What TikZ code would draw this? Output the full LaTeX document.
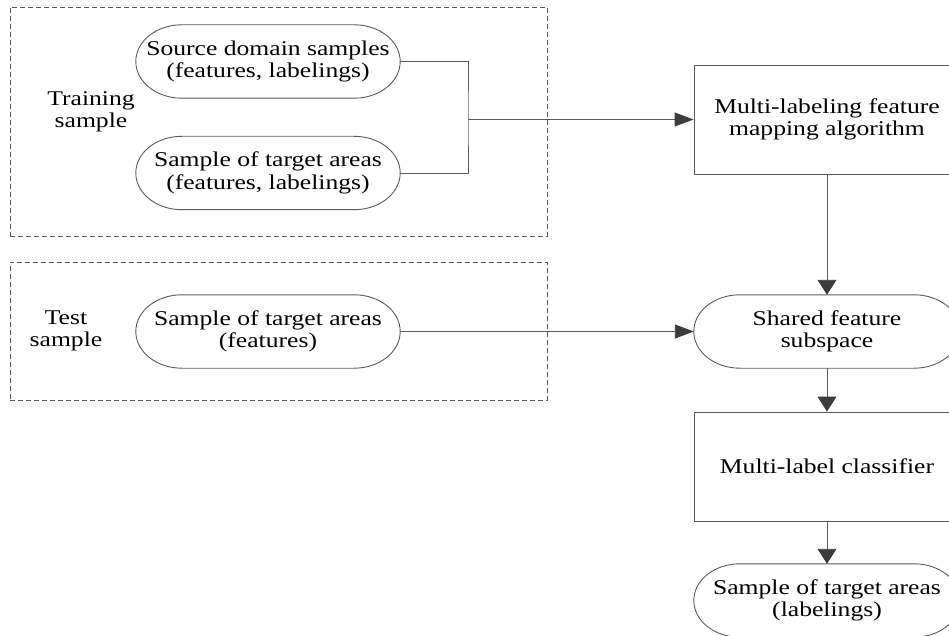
\documentclass[tikz,border=0pt]{standalone}
\usepackage{fontspec}
\setmainfont{Liberation Serif}[FakeStretch=1.22]
\usetikzlibrary{arrows.meta,positioning,calc}
\definecolor{linegray}{HTML}{5A5A5A}
\definecolor{tipgray}{HTML}{3C3C3C}
\tikzset{
  base/.style={font=\fontsize{21}{22.5}\selectfont, align=center, inner sep=0pt, text=black},
  groupbox/.style={draw=linegray, line width=0.8pt, dash pattern=on 5pt off 3pt},
  procbox/.style={base, draw=linegray, line width=0.9pt, minimum width=266pt, minimum height=109pt},
  stadnode/.style={base, minimum height=73pt},
  stadline/.style={draw=linegray, line width=0.9pt},
  conn/.style={draw=linegray, line width=0.9pt},
  arrH/.style={conn, -{Triangle[length=19pt,width=14pt,fill=tipgray,color=tipgray]}},
  arrV/.style={conn, -{Triangle[length=15pt,width=19pt,fill=tipgray,color=tipgray]}},
}
% stadium outline around a node: #1 name, #2 end x-radius
\newcommand{\stadium}[2]{%
  \path let \p1=(#1.north), \p2=(#1.south) in
    \pgfextra{\pgfmathsetmacro{\hh}{(\y1-\y2)/2}}
    [stadline] ([xshift=#2]#1.north west) -- ([xshift=-#2]#1.north east)
    arc[start angle=90,end angle=-90,x radius=#2,y radius=\hh pt]
    -- ([xshift=#2]#1.south west)
    arc[start angle=270,end angle=90,x radius=#2,y radius=\hh pt] -- cycle;}
\begin{document}
\begin{tikzpicture}[x=1pt,y=1pt]
\useasboundingbox (0,0) rectangle (949,-636);
% group boxes
\node[groupbox, minimum width=537pt, minimum height=229pt, inner sep=0pt] (train) at (278.5,-121.5) {};
\node[groupbox, minimum width=537pt, minimum height=138pt, inner sep=0pt] (test) at (278.5,-331) {};
\node[base] (trainlbl) at (91,-112) {Training\\sample};
\node[base] (testlbl) at (66,-331) {Test\\sample};
% left stadiums
\node[stadnode, minimum width=264pt] (src) at (268,-61.5) {Source domain samples\\(features, labelings)};
\node[stadnode, minimum width=264pt] (tgt) at (268,-173) {Sample of target areas\\(features, labelings)};
\node[stadnode, minimum width=264pt] (tst) at (268,-331.5) {Sample of target areas\\(features)};
% right column
\node[procbox] (mlfm) at (827,-119.5) {Multi-labeling feature\\mapping algorithm};
\node[stadnode, minimum width=266pt] (shared) at (827,-331.5) {Shared feature\\subspace};
\node[procbox] (clf) at (827,-466.5) {Multi-label classifier};
\node[stadnode, minimum width=266pt] (out) at (827,-600.5) {Sample of target areas\\(labelings)};
\stadium{src}{46pt}
\stadium{tgt}{46pt}
\stadium{tst}{46pt}
\stadium{shared}{46pt}
\stadium{out}{46pt}
% connectors
\coordinate (jn) at (468,-119.5);
\draw[conn] (src.east) -| (jn) |- (tgt.east);
\draw[arrH] (jn) -- (mlfm.west);
\draw[arrH] (tst.east) -- (shared.west);
\draw[arrV] (mlfm.south) -- (shared.north);
\draw[arrV] (shared.south) -- (clf.north);
\draw[arrV] (clf.south) -- (out.north);
\end{tikzpicture}
\end{document}
